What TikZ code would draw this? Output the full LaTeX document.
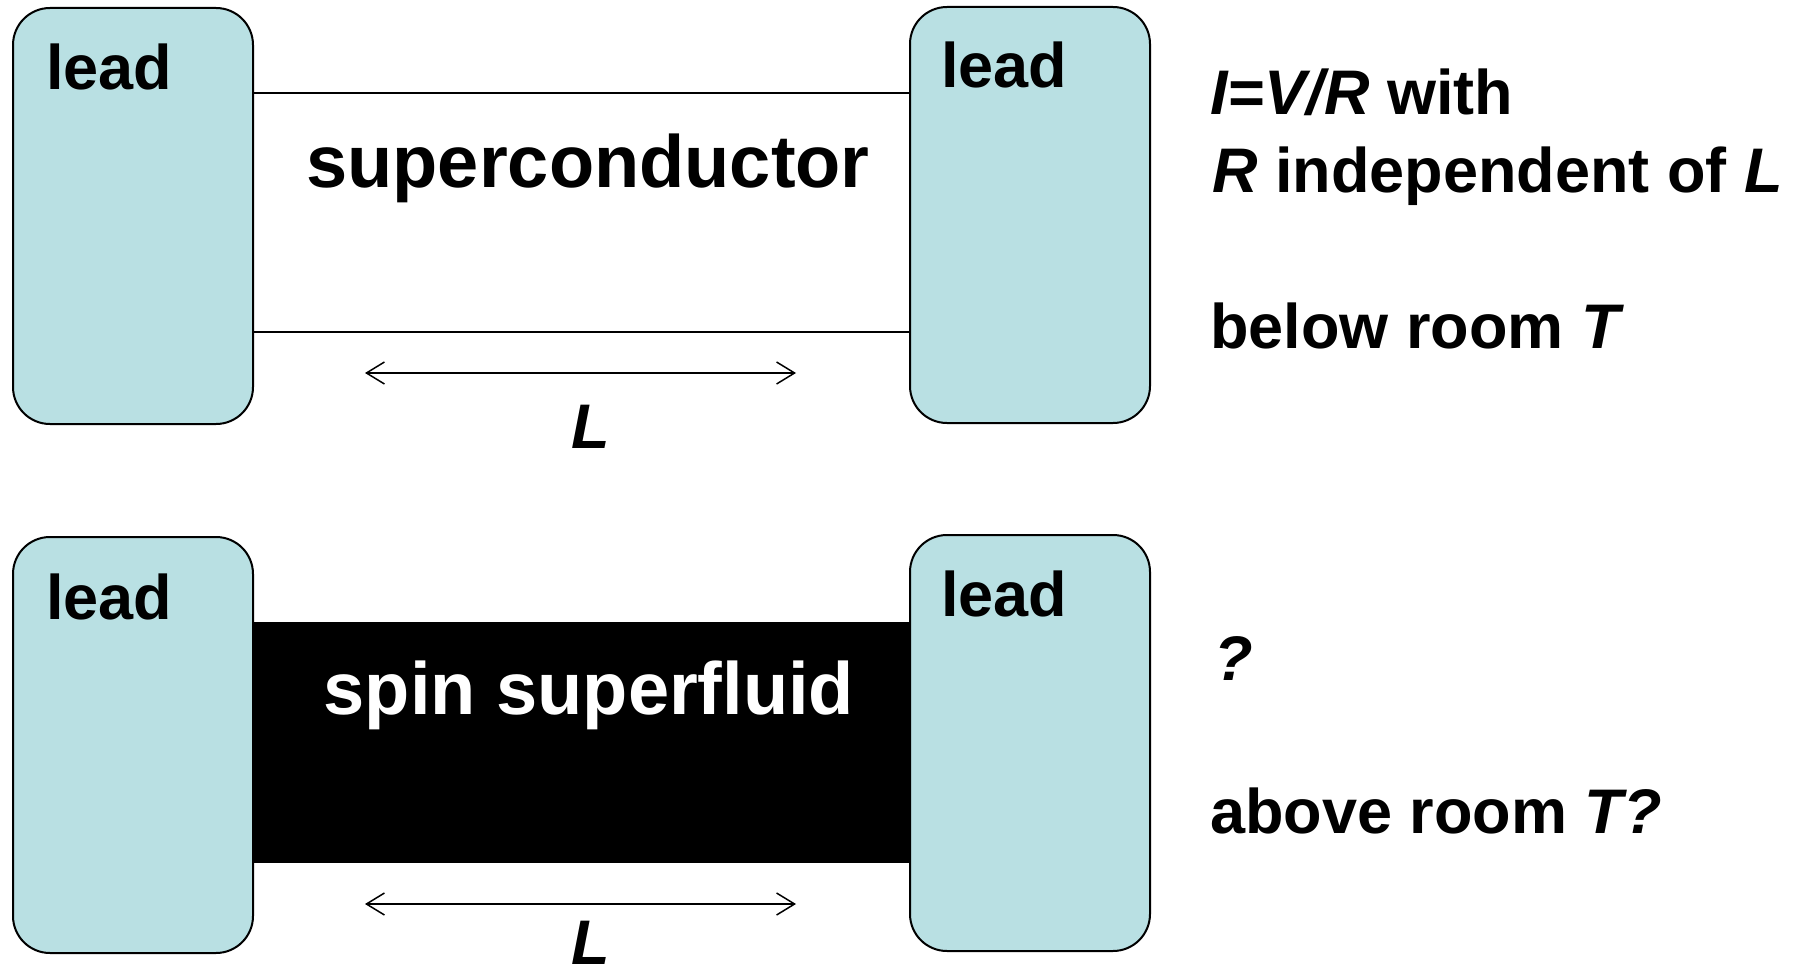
\documentclass[tikz,border=0pt]{standalone}
\usepackage{fontspec}
\setmainfont{Liberation Sans}
\usetikzlibrary{arrows.meta}
\definecolor{leadblue}{RGB}{185,224,227}
\begin{document}
\begin{tikzpicture}[x=1pt,y=-1pt,
  leadbox/.style={draw=black, line width=2pt, fill=leadblue, rounded corners=37pt, minimum width=240pt, minimum height=416pt, inner sep=0pt, anchor=north west},
  txt/.style={inner sep=0pt, anchor=base west, font=\fontsize{63}{63}\selectfont\bfseries},
  bigtxt/.style={inner sep=0pt, anchor=base, font=\fontsize{74}{74}\selectfont\bfseries},
  dimarrow/.style={{Straight Barb[length=18pt,width=22pt]}-{Straight Barb[length=18pt,width=22pt]}, line width=1.5pt},
  wire/.style={line width=2pt}
]
\useasboundingbox (0,0) rectangle (1807,979);
% bottom superfluid bar (behind leads)
\fill[black] (252,622) rectangle (910,863);
% leads
\node[leadbox] (ll1) at (12,7) {};
\node[leadbox] (rl1) at (909,6) {};
\node[leadbox] (ll2) at (12,536) {};
\node[leadbox] (rl2) at (909,534) {};
% superconductor lines
\coordinate (ya) at (0,93);
\coordinate (yb) at (0,332);
\draw[wire] (ll1.east |- ya) -- (rl1.west |- ya);
\draw[wire] (ll1.east |- yb) -- (rl1.west |- yb);
% lead labels
\node[txt] (t1) at (46,90) {lead};
\node[txt] (t2) at (941,88) {lead};
\node[txt] (t3) at (46,619) {lead};
\node[txt] (t4) at (941,616) {lead};
% middle labels
\node[bigtxt] (sc) at (588,187) {superconductor};
\node[bigtxt, text=white] (sf) at (589,714) {spin superfluid};
% dimension arrows
\coordinate (a1) at (365,373);
\coordinate (a2) at (796,373);
\draw[dimarrow] (a1) -- (a2);
\node[txt, anchor=base] (L1) at (591,448) {\itshape L};
\coordinate (b1) at (365,904);
\coordinate (b2) at (796,904);
\draw[dimarrow] (b1) -- (b2);
\node[txt, anchor=base] (L2) at (591,964) {\itshape L};
% right texts
\node[txt] (r1) at (1210,115) {\textit{I=V/R} with};
\node[txt] (r2) at (1212,192) {\textit{R} independent of \textit{L}};
\node[txt] (r3) at (1210,348) {below room \textit{T}};
\node[txt] (r4) at (1214,680) {\textit{?}};
\node[txt] (r5) at (1210,833) {above room \textit{T?}};
\end{tikzpicture}
\end{document}
